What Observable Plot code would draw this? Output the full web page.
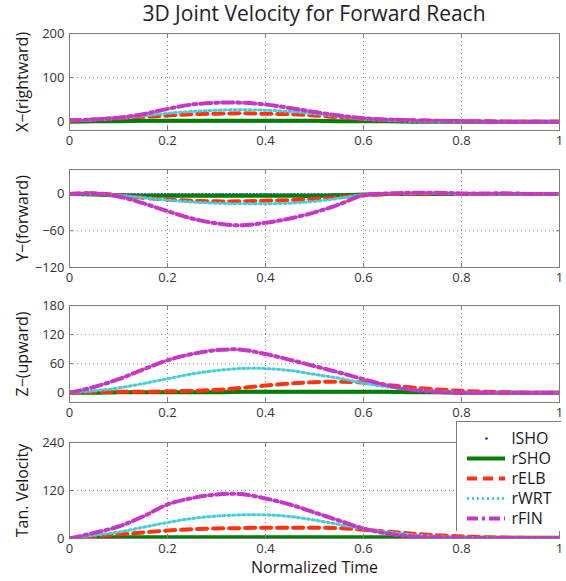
<!DOCTYPE html>
<html><head><meta charset="utf-8">
<script src="https://cdn.jsdelivr.net/npm/d3@7"></script>
<script src="https://cdn.jsdelivr.net/npm/@observablehq/plot@0.6"></script>
<style>
body{margin:0;background:#fff;}
#wrap{position:relative;width:566px;height:581px;font-family:"Open Sans",sans-serif;overflow:hidden;}
.abs{position:absolute;left:0;overflow:visible;}
#title{position:absolute;left:69px;width:490px;top:0px;text-align:center;font-size:21px;line-height:27px;color:#222;}
</style></head><body>
<div id="wrap"><div id="title">3D Joint Velocity for Forward Reach</div></div>
<script>
// ---- data ----
const time = [0,0.05,0.1,0.15,0.2,0.25,0.3,0.35,0.4,0.45,0.5,0.55,0.6,0.65,0.7,0.75,0.8,0.85,0.9,0.95,1];
const seriesNames = ["lSHO","rSHO","rELB","rWRT","rFIN"];
const panelLabels = ["X\u2212(rightward)","Y\u2212(forward)","Z\u2212(upward)","Tan. Velocity"];
const xTicks = [0,0.2,0.4,0.6,0.8,1];
const yTicks = [[0,100,200],[-120,-60,0],[0,60,120,180],[0,120,240]];
const yLimits = [[-20,200],[-120,40],[-20,180],[0,240]];

// X (rightward)
const xLSHO = [0,0,0,0,0,0,0,0,0,0,0,0,0,0,0,0,0,0,0,0,0];
const xRSHO = [0,1,1,2,2,2,2,2,2,2,2,1,1,1,0,0,0,0,0,0,0];
const xRELB = [2,5,8,11,14,17,18,19,18,17,14,10,6,4,3,2,1,1,0,0,0];
const xRWRT = [2,4,8,13,19,23,26,27,26,23,18,12,6,3,1,0,0,0,0,0,0];
const xRFIN = [3,5,9,17,29,39,43,43,39,31,22,14,8,5,3,2,1,0,0,0,0];
// Y (forward)
const yLSHO = [0,0,0,0,0,0,0,0,0,0,0,0,0,0,0,0,0,0,0,0,0];
const yRSHO = [0,-1,-2,-3,-3,-3,-3,-3,-3,-3,-3,-2,-1,0,0,0,0,0,0,0,0];
const yRELB = [0,1,-2,-6,-9,-11,-12,-12,-11,-10,-8,-5,-2,0,0,1,0,0,0,0,0];
const yRWRT = [0,0,-2,-6,-10,-13,-15,-16,-16,-15,-12,-7,-1,1,1,1,0,0,0,0,0];
const yRFIN = [0,1,-4,-15,-28,-40,-48,-51,-47,-40,-30,-17,-2,1,2,2,1,1,1,0,0];
// Z (upward)
const zLSHO = [0,0,0,0,0,0,0,0,0,0,0,0,0,0,0,0,0,0,0,0,0];
const zRSHO = [0,0,1,1,1,1,1,2,2,2,2,2,2,2,1,1,0,0,0,0,0];
const zRELB = [0,2,2,2,3,4,6,10,15,19,22,23,21,16,11,7,4,2,1,0,0];
const zRWRT = [0,4,10,19,29,39,46,50,50,46,38,30,20,12,7,3,1,0,0,0,0];
const zRFIN = [0,12,28,48,67,80,88,89,80,68,55,42,28,15,6,2,0,0,0,0,0];
// Tangential velocity
const tLSHO = [0,0,0,0,0,0,0,0,0,0,0,0,0,0,0,0,0,0,0,0,0];
const tRSHO = [0,3,3,3,3,3,3,3,3,3,3,3,3,3,2,2,2,2,2,2,2];
const tRELB = [0,6,10,15,20,23,25,26,27,27,27,26,22,17,12,8,5,3,2,1,1];
const tRWRT = [0,8,16,28,40,50,56,59,59,55,46,35,24,16,9,5,3,2,1,1,1];
const tRFIN = [0,14,30,55,85,101,110,111,100,85,65,45,25,12,5,3,2,1,1,1,1];

const panelData = [
  [xLSHO,xRSHO,xRELB,xRWRT,xRFIN],
  [yLSHO,yRSHO,yRELB,yRWRT,yRFIN],
  [zLSHO,zRSHO,zRELB,zRWRT,zRFIN],
  [tLSHO,tRSHO,tRELB,tRWRT,tRFIN]
];

// ---- styles ----
const styles = {
  lSHO: {stroke:"#1f1fff", strokeWidth:1.6, strokeDasharray:"1.2,2.2"},
  rSHO: {stroke:"#007f00", strokeWidth:4},
  rELB: {stroke:"#ff3311", strokeWidth:4, strokeDasharray:"10,6"},
  rWRT: {stroke:"#44cfd6", strokeWidth:3, strokeDasharray:"2,3"},
  rFIN: {stroke:"#c637c6", strokeWidth:4, strokeDasharray:"11,4,3,4"}
};

const fmt = d => d < 0 ? "\u2212" + Math.abs(d) : String(d);
const panelTops = [33,169,305,442];
const panelHeights = [97,98,97,96];
const wrap = document.getElementById("wrap");

panelData.forEach((arrs, i) => {
  const last = i === 3;
  const mt = 10, mb = last ? 40 : 25;
  const marks = [
    Plot.gridX(xTicks, {stroke:"#8a8a8a", strokeOpacity:1, strokeWidth:1, strokeDasharray:"1,3"}),
    Plot.gridY(yTicks[i], {stroke:"#8a8a8a", strokeOpacity:1, strokeWidth:1, strokeDasharray:"1,3"}),
  ];
  seriesNames.forEach((name, k) => {
    const rows = time.map((t, j) => ({t, v: arrs[k][j], name}));
    marks.push(Plot.line(rows, {x:"t", y:"v", curve:"catmull-rom", clip:true, ...styles[name]}));
  });
  marks.push(
    Plot.frame({stroke:"#7f7f7f", strokeWidth:1}),
    Plot.axisX({ticks:xTicks, tickFormat:fmt, tickSize:-4, tickPadding:9, stroke:"#7f7f7f", fill:"#333", fontSize:13, label:null}),
    Plot.axisX({anchor:"top", ticks:xTicks, tickFormat:()=>"", tickSize:-4, tickPadding:0, stroke:"#7f7f7f", label:null}),
    Plot.axisY({ticks:yTicks[i], tickFormat:fmt, tickSize:-4, tickPadding:9, stroke:"#7f7f7f", fill:"#333", fontSize:13, label:null}),
    Plot.axisY({anchor:"right", ticks:yTicks[i], tickFormat:()=>"", tickSize:-4, tickPadding:0, stroke:"#7f7f7f", label:null}),
    Plot.text([panelLabels[i]], {frameAnchor:"left", dx:-47, rotate:-90, textAnchor:"middle", lineAnchor:"middle", fontSize:16, fill:"#1a1a1a"})
  );
  if (last) marks.push(Plot.text(["Normalized Time"], {frameAnchor:"bottom", dy:29, textAnchor:"middle", lineAnchor:"middle", fontSize:16, fill:"#1a1a1a"}));
  const chart = Plot.plot({
    width:566, height: mt + panelHeights[i] + mb,
    marginTop:mt, marginBottom:mb, marginLeft:69, marginRight:7,
    x:{domain:[0,1]},
    y:{domain:yLimits[i]},
    style:{fontFamily:"'Open Sans',sans-serif", background:"transparent", overflow:"visible"},
    marks
  });
  chart.classList.add("abs");
  chart.style.overflow = "visible";
  chart.style.top = (panelTops[i] - mt) + "px";
  wrap.appendChild(chart);
});

// ---- legend ----
const legMarks = [Plot.frame({fill:"white", stroke:"#7f7f7f"})];
seriesNames.forEach(name => {
  if (name === "lSHO") {
    legMarks.push(Plot.dot([name], {x:()=>30, y:d=>d, r:1.3, fill:"#1f1fff", stroke:null}));
  } else {
    legMarks.push(Plot.ruleY([name], {y:d=>d, x1:()=>11, x2:()=>49, ...styles[name]}));
  }
});
legMarks.push(Plot.text(seriesNames, {x:()=>55, y:d=>d, textAnchor:"start", fontSize:16, fill:"#1a1a1a"}));
const legend = Plot.plot({
  width:105, height:110, margin:0,
  x:{domain:[0,105], range:[0,105], axis:null},
  y:{type:"point", domain:seriesNames, range:[16,98], padding:0, axis:null},
  style:{fontFamily:"'Open Sans',sans-serif", background:"transparent"},
  marks: legMarks
});
legend.style.position = "absolute";
legend.style.left = "456px";
legend.style.top = "421px";
wrap.appendChild(legend);
</script>
</body></html>
